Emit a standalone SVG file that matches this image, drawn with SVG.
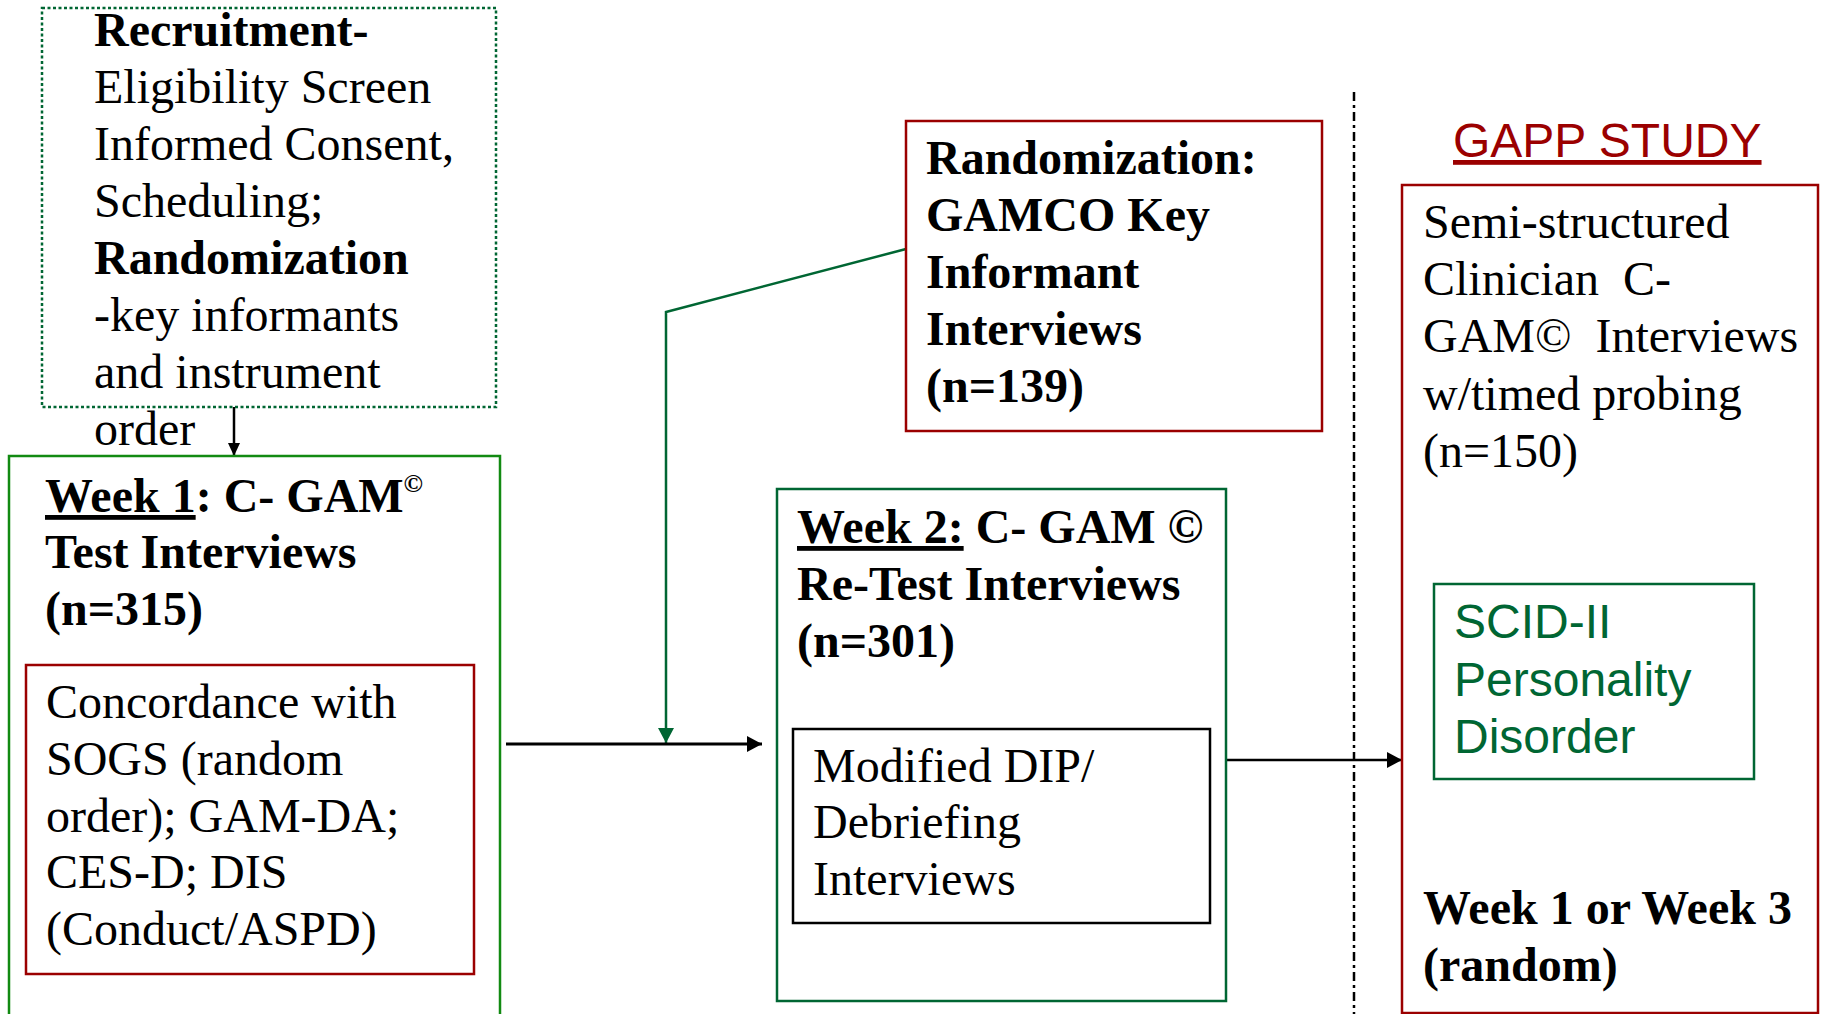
<svg xmlns="http://www.w3.org/2000/svg" width="1821" height="1014" viewBox="0 0 1821 1014">
<style>
.t{font-family:"Liberation Serif","Times New Roman",serif;font-size:48px;fill:#000;white-space:pre}
.b{font-weight:bold}
.s{font-family:"Liberation Sans",Arial,sans-serif;font-size:48px;white-space:pre}
.box{fill:none;stroke-width:2.5}
.red{stroke:#9b0000}
.dg{stroke:#006633}
.g{stroke:#128a12}
.k{stroke:#000}
</style>
<defs>
<marker id="ak" markerWidth="16" markerHeight="16" refX="15" refY="8" orient="auto" markerUnits="userSpaceOnUse">
<path d="M0,0 L15,8 L0,16 Z" fill="#000"/>
</marker>
<marker id="ag" markerWidth="16" markerHeight="16" refX="15" refY="8" orient="auto" markerUnits="userSpaceOnUse">
<path d="M0,0 L15,8 L0,16 Z" fill="#006633"/>
</marker>
<marker id="ad" markerWidth="12" markerHeight="14" refX="13" refY="6" orient="auto" markerUnits="userSpaceOnUse">
<path d="M0,0 L13,6 L0,12 Z" fill="#000"/>
</marker>
</defs>

<g id="connectors">
<line x1="234" y1="407" x2="234" y2="456" stroke="#000" stroke-width="2.5" marker-end="url(#ad)"/>
<polyline points="906,249 666,312 666,743" fill="none" stroke="#006633" stroke-width="2.5" marker-end="url(#ag)"/>
<line x1="506" y1="744" x2="762" y2="744" stroke="#000" stroke-width="3" marker-end="url(#ak)"/>
<line x1="1226" y1="760" x2="1402" y2="760" stroke="#000" stroke-width="2.5" marker-end="url(#ak)"/>
</g>

<g id="divider">
<line x1="1354" y1="92" x2="1354" y2="1014" stroke="#000" stroke-width="2.5" stroke-dasharray="9 4 3 4"/>
</g>

<g id="recruitment">
<rect class="box dg" x="42" y="8" width="454" height="399" stroke-dasharray="3 2.5"/>
<text class="t b" x="94" y="46">Recruitment-</text>
<text class="t" x="94" y="103">Eligibility Screen</text>
<text class="t" x="94" y="160">Informed Consent,</text>
<text class="t" x="94" y="217">Scheduling;</text>
<text class="t b" x="94" y="274">Randomization</text>
<text class="t" x="94" y="331">-key informants</text>
<text class="t" x="94" y="388">and instrument</text>
<text class="t" x="94" y="445">order</text>
</g>

<g id="week1">
<rect class="box g" x="9" y="456" width="491" height="580"/>
<text class="t b" x="45" y="512"><tspan text-decoration="underline">Week 1</tspan>: C- GAM<tspan font-size="26" dy="-20">©</tspan></text>
<text class="t b" x="45" y="568">Test Interviews</text>
<text class="t b" x="45" y="625">(n=315)</text>
</g>

<g id="concordance">
<rect class="box red" x="26" y="665" width="448" height="309"/>
<text class="t" x="46" y="718">Concordance with</text>
<text class="t" x="46" y="775">SOGS (random</text>
<text class="t" x="46" y="832">order); GAM-DA;</text>
<text class="t" x="46" y="888">CES-D; DIS</text>
<text class="t" x="46" y="945">(Conduct/ASPD)</text>
</g>

<g id="keyinformant">
<rect class="box red" x="906" y="121" width="416" height="310"/>
<text class="t b" x="926" y="174">Randomization:</text>
<text class="t b" x="926" y="231">GAMCO Key</text>
<text class="t b" x="926" y="288">Informant</text>
<text class="t b" x="926" y="345">Interviews</text>
<text class="t b" x="926" y="402">(n=139)</text>
</g>

<g id="week2">
<rect class="box dg" x="777" y="489" width="449" height="512"/>
<text class="t b" x="797" y="543"><tspan text-decoration="underline">Week 2:</tspan> C- GAM ©</text>
<text class="t b" x="797" y="600">Re-Test Interviews</text>
<text class="t b" x="797" y="657">(n=301)</text>
</g>

<g id="debriefing">
<rect class="box k" x="793" y="729" width="417" height="194"/>
<text class="t" x="813" y="782">Modified DIP/</text>
<text class="t" x="813" y="838">Debriefing</text>
<text class="t" x="813" y="895">Interviews</text>
</g>

<g id="gapp-title">
<text class="s" x="1453" y="157" fill="#9b0000" text-decoration="underline">GAPP STUDY</text>
</g>

<g id="gapp">
<rect class="box red" x="1402" y="185" width="416" height="828"/>
<text class="t" x="1423" y="238">Semi-structured</text>
<text class="t" x="1423" y="295">Clinician  C-</text>
<text class="t" x="1423" y="352">GAM©  Interviews</text>
<text class="t" x="1423" y="410">w/timed probing</text>
<text class="t" x="1423" y="467">(n=150)</text>
<text class="t b" x="1423" y="924">Week 1 or Week 3</text>
<text class="t b" x="1423" y="981">(random)</text>
</g>

<g id="scid">
<rect class="box dg" x="1434" y="584" width="320" height="195"/>
<text class="s" x="1454" y="638" fill="#006633">SCID-II</text>
<text class="s" x="1454" y="696" fill="#006633">Personality</text>
<text class="s" x="1454" y="753" fill="#006633">Disorder</text>
</g>
</svg>
